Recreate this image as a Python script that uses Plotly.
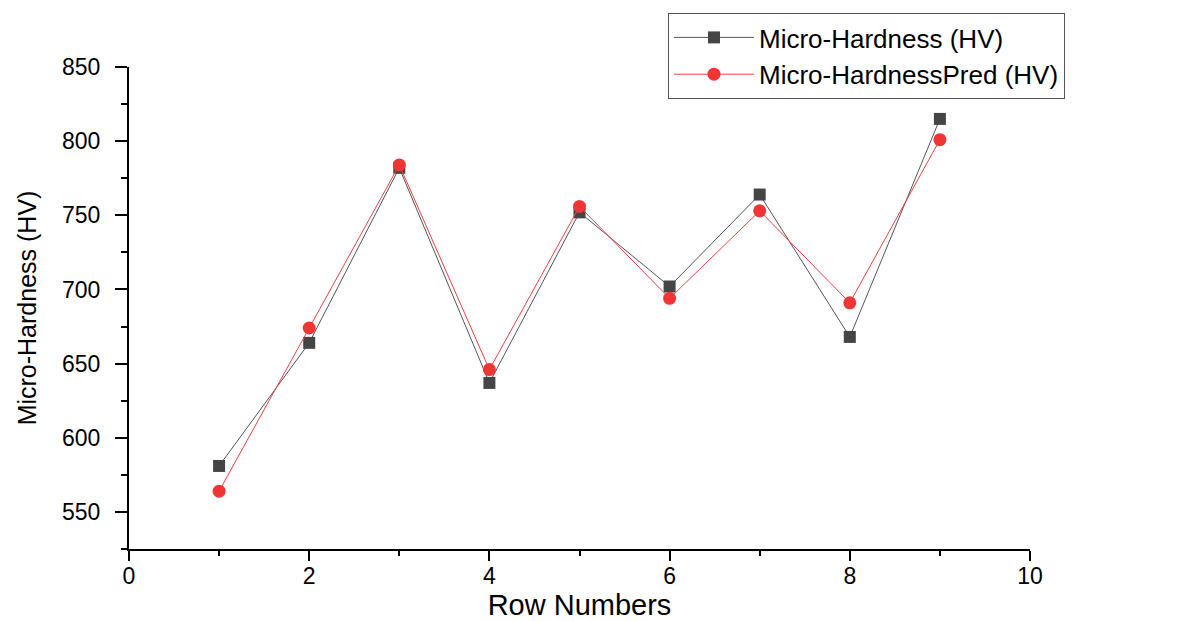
import plotly.graph_objects as go

rows = [1, 2, 3, 4, 5, 6, 7, 8, 9]
hardness = [581, 664, 782, 637, 752, 702, 764, 668, 815]
hardness_pred = [564, 674, 784, 646, 756, 694, 753, 691, 801]

font_family = "Liberation Sans, Arial, sans-serif"

fig = go.Figure()
fig.add_trace(go.Scatter(
    x=rows, y=hardness, mode="lines+markers", name="Micro-Hardness (HV)",
    line=dict(color="#555555", width=1),
    marker=dict(symbol="square", size=12, color="#454545"),
))
fig.add_trace(go.Scatter(
    x=rows, y=hardness_pred, mode="lines+markers", name="Micro-HardnessPred (HV)",
    line=dict(color="#f04040", width=1),
    marker=dict(symbol="circle", size=13, color="#f03535"),
))

axis_common = dict(
    showline=True, linecolor="black", linewidth=2,
    ticks="outside", tickcolor="black", tickwidth=2,
    showgrid=False, zeroline=False, mirror=False,
    tickfont=dict(family=font_family, size=23, color="black"),
)

fig.update_xaxes(
    range=[0, 10], tickmode="linear", tick0=0, dtick=2, ticklen=10,
    minor=dict(dtick=1, ticklen=5, tickcolor="black", tickwidth=2, ticks="outside"),
    ticklabelstandoff=-5,
    title=dict(text="Row Numbers", font=dict(family=font_family, size=29, color="black"), standoff=6),
    **axis_common,
)
fig.update_yaxes(
    range=[525, 850], tickmode="linear", tick0=550, dtick=50, ticklen=12,
    minor=dict(dtick=25, tick0=525, ticklen=6, tickcolor="black", tickwidth=2, ticks="outside"),
    ticklabelstandoff=10,
    title=dict(text="Micro-Hardness (HV)", font=dict(family=font_family, size=25, color="black"), standoff=18),
    **axis_common,
)

fig.update_layout(
    width=1200, height=621,
    margin=dict(l=121, r=178, t=59, b=80, autoexpand=False),
    paper_bgcolor="white", plot_bgcolor="white",
    showlegend=True,
    legend=dict(
        xref="container", yref="container",
        x=660 / 1200, y=1 - 5 / 621, xanchor="left", yanchor="top",
        bordercolor="#555555", borderwidth=1, bgcolor="white",
        font=dict(family=font_family, size=26, color="black"),
        itemwidth=80, tracegroupgap=0,
    ),
)

fig.write_html("out.html")
